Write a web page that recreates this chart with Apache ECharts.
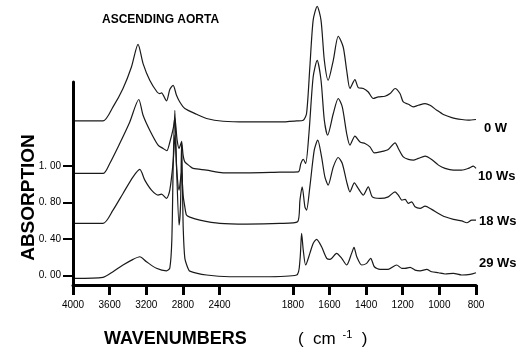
<!DOCTYPE html>
<html>
<head>
<meta charset="utf-8">
<script src="https://cdn.jsdelivr.net/npm/echarts@6/dist/echarts.min.js"></script>
<style>
  html, body { margin: 0; padding: 0; background: #fff; }
  #chart { width: 525px; height: 350px; }
</style>
</head>
<body>
<div id="chart"></div>
<script>
// IR absorption spectra of the ascending aorta, stacked by exposure time.
// Each trace: [wavenumber (cm-1), absorption]
const traceNames = ['0 W', '10 Ws', '18 Ws', '29 Ws'];

const trace0W = [
  [3981, 1.689], [3672, 1.689], [3563, 1.842], [3454, 2.043], [3362, 2.278],
  [3290, 2.525], [3235, 2.315], [3162, 2.133], [3082, 2.005], [3053, 1.988],
  [3034, 1.995], [2979, 1.907], [2943, 2.032], [2907, 2.078], [2870, 1.969],
  [2834, 1.896], [2779, 1.824], [2651, 1.762], [2542, 1.716], [2361, 1.686],
  [2105, 1.678], [1871, 1.678], [1779, 1.689], [1743, 1.697], [1725, 1.770],
  [1707, 2.278], [1689, 2.787], [1667, 2.940], [1646, 2.787], [1628, 2.351],
  [1607, 2.133], [1579, 2.351], [1552, 2.613], [1525, 2.496], [1506, 2.242],
  [1488, 2.043], [1461, 2.141], [1443, 2.053], [1415, 2.043], [1388, 2.005],
  [1361, 1.934], [1333, 1.951], [1297, 1.959], [1269, 1.988], [1242, 2.043],
  [1215, 1.988], [1197, 1.896], [1169, 1.871], [1142, 1.842], [1115, 1.860],
  [1078, 1.879], [1051, 1.860], [1014, 1.806], [978, 1.759], [932, 1.726],
  [878, 1.705], [842, 1.697], [800, 1.705]
];

const trace10W = [
  [3981, 1.116], [3672, 1.116], [3599, 1.225], [3490, 1.443], [3380, 1.678],
  [3282, 1.923], [3235, 1.751], [3162, 1.588], [3071, 1.425], [3016, 1.389],
  [2976, 1.364], [2943, 1.457], [2905, 1.610], [2888, 1.719], [2863, 1.479],
  [2842, 1.389], [2815, 1.460], [2798, 1.316], [2779, 1.243], [2725, 1.196],
  [2688, 1.171], [2542, 1.152], [2361, 1.123], [2105, 1.123], [1871, 1.130],
  [1770, 1.134], [1756, 1.225], [1743, 1.269], [1730, 1.225], [1712, 1.552],
  [1689, 2.169], [1667, 2.351], [1646, 2.133], [1628, 1.697], [1610, 1.534],
  [1579, 1.770], [1552, 1.934], [1530, 1.842], [1506, 1.552], [1488, 1.425],
  [1461, 1.523], [1433, 1.460], [1406, 1.443], [1379, 1.406], [1355, 1.341],
  [1324, 1.351], [1279, 1.378], [1242, 1.450], [1224, 1.389], [1197, 1.297],
  [1169, 1.269], [1142, 1.261], [1115, 1.280], [1078, 1.305], [1042, 1.269],
  [1005, 1.207], [969, 1.171], [923, 1.152], [878, 1.152], [842, 1.171],
  [814, 1.196], [800, 1.171]
];

const trace18W = [
  [3981, 0.571], [3672, 0.571], [3563, 0.716], [3454, 0.898], [3344, 1.079],
  [3271, 1.160], [3216, 1.043], [3143, 0.934], [3071, 0.880], [3034, 0.890],
  [2979, 0.844], [2943, 0.934], [2905, 1.261], [2888, 1.534], [2867, 1.152],
  [2842, 0.934], [2815, 1.130], [2798, 0.880], [2779, 0.752], [2761, 0.662],
  [2725, 0.640], [2615, 0.607], [2397, 0.571], [2105, 0.563], [1871, 0.571],
  [1774, 0.589], [1761, 0.825], [1749, 0.970], [1734, 0.752], [1725, 0.716],
  [1707, 0.970], [1683, 1.370], [1664, 1.479], [1643, 1.297], [1625, 1.079],
  [1607, 0.989], [1579, 1.188], [1552, 1.290], [1530, 1.225], [1506, 1.025],
  [1488, 0.916], [1464, 1.014], [1443, 0.953], [1415, 0.880], [1388, 0.970],
  [1366, 0.861], [1324, 0.844], [1279, 0.861], [1242, 0.916], [1224, 0.880],
  [1205, 0.825], [1187, 0.833], [1169, 0.789], [1151, 0.807], [1133, 0.752],
  [1105, 0.735], [1078, 0.760], [1042, 0.724], [1005, 0.680], [969, 0.643],
  [923, 0.615], [878, 0.599], [850, 0.578], [823, 0.607], [800, 0.607]
];

const trace29W = [
  [3981, -0.028], [3672, -0.017], [3563, 0.044], [3454, 0.117], [3344, 0.179],
  [3271, 0.207], [3198, 0.153], [3089, 0.081], [2979, 0.054], [2943, 0.084],
  [2921, 0.389], [2905, 1.261], [2888, 1.806], [2870, 1.207], [2842, 0.553],
  [2826, 0.771], [2814, 1.468], [2804, 0.934], [2796, 0.498], [2779, 0.193],
  [2746, 0.084], [2725, 0.051], [2542, 0.008], [2288, -0.011], [1962, -0.011],
  [1779, 0.008], [1761, 0.171], [1752, 0.462], [1743, 0.280], [1730, 0.117],
  [1707, 0.244], [1689, 0.353], [1670, 0.397], [1643, 0.316], [1615, 0.190],
  [1597, 0.179], [1561, 0.244], [1533, 0.190], [1506, 0.117], [1479, 0.244],
  [1466, 0.310], [1451, 0.207], [1424, 0.117], [1397, 0.135], [1375, 0.190],
  [1355, 0.098], [1324, 0.070], [1279, 0.070], [1233, 0.117], [1205, 0.081],
  [1187, 0.081], [1160, 0.092], [1133, 0.062], [1105, 0.054], [1069, 0.070],
  [1042, 0.044], [1005, 0.033], [969, 0.019], [923, 0.026], [878, 0.008],
  [832, 0.015], [800, 0.033]
];

// Axis ticks
const xTickLabels = [4000, 3600, 3200, 2800, 2400, 1800, 1600, 1400, 1200, 1000, 800];
const yTickValues = [0, 0.4, 0.8, 1.2];
const yTickLabels = ['0. 00', '0. 40', '0. 80', '1. 00'];

// Split wavenumber scale: 400 cm-1 per step above 2000, 200 cm-1 per step below.
function toAxis(w) {
  return w >= 2000 ? (4000 - w) / 400 : 5 + (2000 - w) / 200;
}
function fromAxis(u) {
  return u <= 5 ? 4000 - 400 * u : 2000 - 200 * (u - 5);
}

const traces = [trace0W, trace10W, trace18W, trace29W];
const labelOffsets = [[8, 9], [2, 8], [3, 1], [3, -9]];

const FONT = 'Liberation Sans, Arial, sans-serif';
const xTickPos = xTickLabels.map(toAxis);

const chart = echarts.init(document.getElementById('chart'), null, { renderer: 'canvas' });

chart.setOption({
  animation: false,
  backgroundColor: '#fff',
  grid: { left: 73, right: 49, top: 82, bottom: 65 },
  xAxis: {
    type: 'value',
    min: 0,
    max: 11,
    splitLine: { show: false },
    axisLine: { show: true, onZero: false, lineStyle: { color: '#000', width: 3 } },
    axisTick: { show: true, customValues: xTickPos, length: 10, lineStyle: { color: '#000', width: 3 } },
    axisLabel: {
      customValues: xTickPos,
      formatter: v => String(Math.round(fromAxis(v))),
      color: '#000', fontSize: 10, fontFamily: FONT, margin: 15
    }
  },
  yAxis: {
    type: 'value',
    min: -0.101,
    max: 2.114,
    splitLine: { show: false },
    axisLine: { show: true, onZero: false, lineStyle: { color: '#000', width: 3 } },
    axisTick: { show: true, customValues: yTickValues, length: 10, lineStyle: { color: '#000', width: 2 } },
    axisLabel: {
      customValues: yTickValues,
      formatter: v => yTickLabels[yTickValues.findIndex(t => Math.abs(t - v) < 1e-6)],
      color: '#000', fontSize: 10, fontFamily: FONT, margin: 12
    }
  },
  series: traces.map((t, i) => ({
    type: 'line',
    name: traceNames[i],
    data: t.map(([w, a]) => [toAxis(w), a]),
    showSymbol: false,
    clip: false,
    smooth: 0.25,
    lineStyle: { color: '#1a1a1a', width: 1.2 },
    endLabel: {
      show: true,
      formatter: traceNames[i],
      position: 'right',
      distance: 0,
      offset: labelOffsets[i],
      color: '#000',
      fontSize: 13,
      fontWeight: 'bold',
      fontFamily: FONT
    }
  })),
  graphic: [
    {
      type: 'text', x: 102, y: 20,
      style: { text: 'ASCENDING AORTA', fill: '#000', fontSize: 12, fontWeight: 'bold', fontFamily: FONT, verticalAlign: 'middle', align: 'left' }
    },
    {
      type: 'text', x: 104, y: 339,
      style: { text: 'WAVENUMBERS', fill: '#000', fontSize: 18, fontWeight: 'bold', fontFamily: FONT, verticalAlign: 'middle', align: 'left' }
    },
    {
      type: 'text', x: 298, y: 339,
      style: {
        text: '{a|(  cm }{s|-1}{a|  )}',
        verticalAlign: 'middle', align: 'left',
        rich: {
          a: { fontSize: 17, fontFamily: FONT, fill: '#000' },
          s: { fontSize: 11, fontFamily: FONT, fill: '#000', padding: [0, 0, 9, 2] }
        }
      }
    },
    {
      type: 'text', x: 28.5, y: 197.5, rotation: Math.PI / 2,
      style: { text: 'ABSORPTION', fill: '#000', fontSize: 19, fontWeight: 'bold', fontFamily: FONT, verticalAlign: 'middle', align: 'center' }
    }
  ]
});
</script>
</body>
</html>
